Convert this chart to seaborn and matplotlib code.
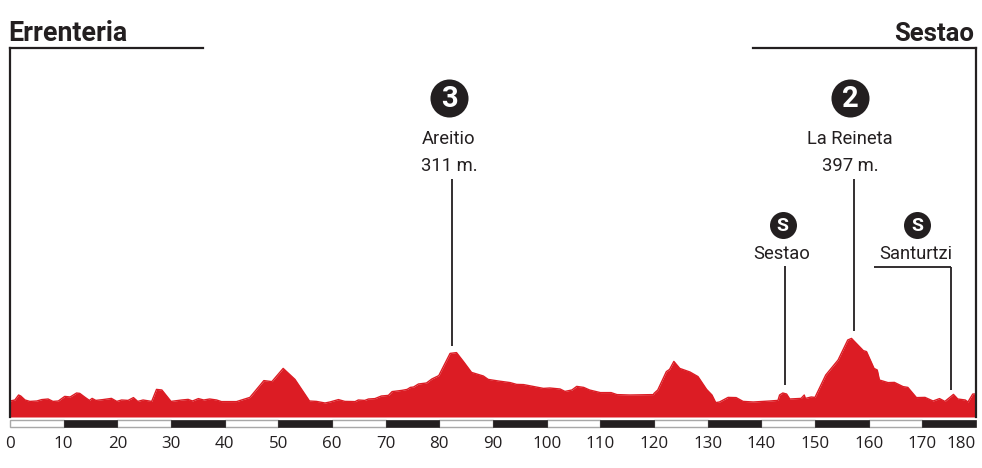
import matplotlib
matplotlib.use("Agg")
import matplotlib.pyplot as plt
import seaborn as sns
import pandas as pd

# profile
km = [0, 0.9, 1.6, 2, 2.8, 3.7, 5, 5.9, 7.1, 8, 9, 10.2, 11.2, 12.4, 13, 14, 14.8, 15.3, 16, 17.3,
      18.9, 19.9, 20.8, 22, 23, 23.8, 24.8, 26.4, 27.3, 28.3, 30, 32, 33.2, 34, 35.1, 36.1, 37.2, 38.5, 39.4, 42.2,
      44.7, 47.3, 48.8, 50.9, 53.1, 55.8, 57.1, 58.7, 59.6, 61.2, 62.4, 64.3, 64.9, 66.1, 66.8, 68, 69.2, 70.5, 71.2, 73,
      74, 74.6, 75.2, 76.1, 77.6, 78.6, 79.9, 82, 83.2, 84.5, 86, 88.2, 89.1, 91, 93.2, 94.4, 95.7, 99.4, 100.6, 102.5,
      103.4, 104.7, 105.6, 106.9, 108, 110, 112, 113.1, 115.5, 119.9, 120, 120.7, 122.3, 122.9, 123.7, 124.8, 126.7, 128.2, 129.8, 130.8,
      131.5, 132.2, 133.8, 135.3, 136.6, 138.5, 141.6, 143.1, 143.4, 144, 144.7, 145.3, 147.4, 148, 148.2, 149.3, 150, 152, 154.3, 156.1,
      156.8, 159, 159.6, 161, 161.6, 162, 163.6, 164.8, 166.4, 167.3, 168.9, 170.5, 172, 173.2, 174.2, 175.8, 176.6, 178, 178.5, 179.4, 180]
elev = [80, 85, 110, 105, 85, 78, 80, 87, 90, 78, 80, 103, 100, 120, 118, 98, 83, 93, 83, 87,
        93, 78, 85, 83, 97, 78, 85, 78, 138, 135, 78, 85, 88, 80, 92, 85, 90, 85, 77, 77,
        98, 182, 177, 243, 188, 80, 78, 70, 75, 87, 78, 77, 85, 83, 90, 92, 105, 108, 127, 133,
        138, 148, 150, 165, 170, 190, 207, 318, 322, 277, 223, 205, 188, 180, 172, 163, 162, 143, 145, 140,
        128, 135, 153, 148, 135, 122, 122, 112, 110, 112, 118, 135, 227, 238, 278, 243, 225, 202, 138, 110,
        72, 75, 98, 97, 78, 75, 80, 83, 110, 120, 115, 90, 93, 110, 93, 100, 98, 210, 285, 385,
        393, 332, 327, 243, 235, 185, 172, 173, 152, 148, 97, 98, 80, 92, 78, 113, 90, 85, 75, 115, 115]

tick_km = list(range(0, 181, 10))
black_km = list(range(10, 180, 20))
white_km = list(range(0, 180, 20))

start_name = "Errenteria"
end_name = "Sestao"
climb_names = ["Areitio\n311 m.", "La Reineta\n397 m."]
climb_cats = ["3", "2"]
climb_km = [81.8, 156.5]
sprint_names = ["Sestao", "Santurtzi"]
sprint_km = [144, 169]

DARK = "#231f20"
RED = "#dc1c24"

sns.set_theme(style="white", rc={"font.family": "Roboto"})
fig = plt.figure(figsize=(9.82, 4.68), dpi=100)
ax = fig.add_axes([10 / 982, 38 / 468, 966 / 982, 382 / 468])

df = pd.DataFrame({"km": km, "elev": elev})
ax.fill_between(df["km"], 0, df["elev"], color=RED, lw=0)
sns.lineplot(data=df, x="km", y="elev", color=RED, lw=1, ax=ax)

ax.set_xlim(0, 180)
ax.set_ylim(-65, 1845)
ax.set_xlabel("")
ax.set_ylabel("")
ax.set_yticks([])
ax.set_xticks(tick_km)
ax.set_xticklabels([str(t) for t in tick_km], fontsize=12.2, color=DARK, family="Open Sans")
ax.tick_params(axis="x", length=0, pad=4)
ax.get_xticklabels()[-1].set_ha("right")

# frame is open at the top between the two town names
for side in ["top", "bottom"]:
    ax.spines[side].set_visible(False)
for side in ["left", "right"]:
    ax.spines[side].set_visible(True)
    ax.spines[side].set_color(DARK)
    ax.spines[side].set_linewidth(1.6)
    ax.spines[side].set_bounds(0, 1845)
ax.plot([0, 36], [1845, 1845], color=DARK, lw=1.6, clip_on=False, solid_capstyle="projecting")
ax.plot([138.4, 180], [1845, 1845], color=DARK, lw=1.6, clip_on=False, solid_capstyle="projecting")

# distance scale
ax.bar(white_km, 35, width=10, bottom=-52, align="edge", color="white", edgecolor="#a8a8a8", lw=1, clip_on=False)
ax.bar(black_km, 35, width=10, bottom=-52, align="edge", color=DARK, edgecolor=DARK, lw=0.5, clip_on=False)

ax.text(-0.4, 1880, start_name, fontsize=19.3, fontweight="bold", color=DARK, ha="left", va="baseline")
ax.text(179.6, 1880, end_name, fontsize=18.5, fontweight="bold", color=DARK, ha="right", va="baseline")

# mountain climbs
ax.vlines([82.4, 157.3], [355, 430], 1190, color=DARK, lw=1.3)
ax.scatter(climb_km, [1595, 1595], s=750, color=DARK, lw=0, clip_on=False, zorder=3)
for x, cat, name in zip(climb_km, climb_cats, climb_names):
    ax.text(x, 1592, cat, fontsize=21, fontweight="bold", color="white", ha="center", va="center", zorder=4)
    ax.text(x, 1230, name, fontsize=13.2, color=DARK, ha="center", va="baseline", linespacing=1.65)

# sprints
ax.vlines([144.5, 175.3], [160, 135], [755, 750], color=DARK, lw=1.3)
ax.hlines(750, 161, 175.3, color=DARK, lw=1.3)
ax.scatter(sprint_km, [960, 960], s=378, color=DARK, lw=0, zorder=3)
for x, name in zip(sprint_km, sprint_names):
    ax.text(x, 957, "S", fontsize=14, fontweight="bold", color="white", ha="center", va="center", zorder=4)
    ax.text(x - 0.2, 790, name, fontsize=13.2, color=DARK, ha="center", va="baseline")

fig.savefig("out.png", dpi=100, facecolor="white")
